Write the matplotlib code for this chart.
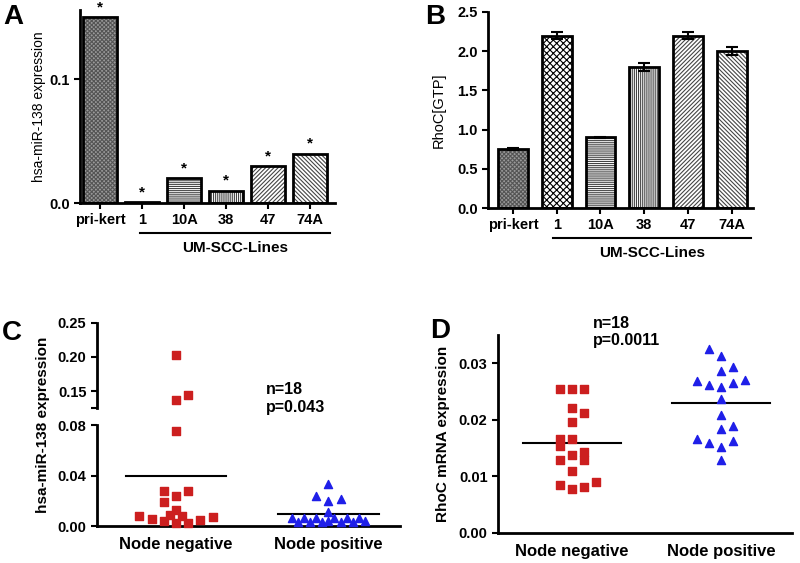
import numpy as np
import matplotlib
matplotlib.use('Agg')
import matplotlib.pyplot as plt
import matplotlib.transforms as mtransforms

plt.rcParams['font.family'] = ['Liberation Sans', 'DejaVu Sans']
plt.rcParams['font.weight'] = 'bold'
plt.rcParams['hatch.linewidth'] = 0.8

# ---- data ----
lines = ['pri-kert', '1', '10A', '38', '47', '74A']
mir138 = [0.150, 0.001, 0.020, 0.010, 0.030, 0.040]
rhoc_gtp = [0.75, 2.20, 0.90, 1.80, 2.20, 2.00]
rhoc_gtp_err = [0.01, 0.04, 0.01, 0.05, 0.05, 0.05]
hatches = ['xxxxxxxx', 'xxxxx', '--------', '||||||||', '////////', '\\' * 8]
hatch_fill = ['#9a9a9a', 'white', 'white', 'white', 'white', 'white']
hatch_col = ['#555555', 'black', '#444444', '#444444', '#444444', '#444444']

groups = ['Node negative', 'Node positive']
# panel C: hsa-miR-138 per tumour, column offset inside the swarm
c_neg = [0.203, 0.137, 0.144, 0.075, 0.028, 0.0276, 0.0234, 0.019, 0.0076,
         0.0055, 0.004, 0.0124, 0.0084, 0.0076, 0.0024, 0.0024, 0.005, 0.007]
c_neg_col = [0, 0, 1, 0, -1, 1, 0, -1, -3, -2, -1, 0, -0.5, 0.5, 0, 1, 2, 3]
c_pos = [0.0333, 0.0238, 0.020, 0.0214, 0.0113, 0.006, 0.003, 0.006, 0.003,
         0.006, 0.003, 0.004, 0.006, 0.003, 0.006, 0.003, 0.006, 0.004]
c_pos_col = [0, -1, 0, 1, 0, -3, -2.5, -2, -1.5, -1, -0.5, 0, 0.5, 1, 1.5, 2, 2.5, 3]
# panel D: RhoC mRNA per tumour
d_neg = [0.0255, 0.0255, 0.0255, 0.0221, 0.0212, 0.0197, 0.0167, 0.0167, 0.0153,
         0.0144, 0.0138, 0.0129, 0.0129, 0.0110, 0.0084, 0.0078, 0.0081, 0.0091]
d_neg_col = [-1, 0, 1, 0, 1, 0, -1, 0, -1, 1, 0, -1, 1, 0, -1, 0, 1, 2]
d_pos = [0.0325, 0.0312, 0.0293, 0.0287, 0.0268, 0.0262, 0.0258, 0.0265, 0.0270,
         0.0236, 0.0208, 0.0190, 0.0184, 0.0167, 0.0159, 0.0152, 0.0162, 0.0129]
d_pos_col = [-1, 0, 1, 0, -2, -1, 0, 1, 2, 0, 0, 1, 0, -2, -1, 0, 1, 0]

RED = '#cc1f1f'
BLUE = '#1f1fe8'
STEP = 0.08

fig = plt.figure(figsize=(8, 5.63), dpi=100)


def style(ax):
    for s in ['top', 'right']:
        ax.spines[s].set_visible(False)
    for s in ['left', 'bottom']:
        ax.spines[s].set_linewidth(2)
    ax.tick_params(direction='out', width=1.5, length=4, labelsize=10.5)


def hatched_bars(ax, x, vals, width, err=None):
    for i in range(len(x)):
        ax.bar(x[i], vals[i], width, color=hatch_fill[i], hatch=hatches[i],
               edgecolor=hatch_col[i], linewidth=0)
        ax.bar(x[i], vals[i], width, color='none', edgecolor='black', linewidth=2)
    if err is not None:
        ax.errorbar(x, vals, yerr=err, fmt='none', ecolor='black',
                    elinewidth=1.5, capsize=4, capthick=1.5)


def underline(ax, x0, x1, y_line, y_text):
    tr = mtransforms.blended_transform_factory(ax.transData, ax.transAxes)
    ax.plot([x0, x1], [y_line, y_line], color='black', lw=1.5,
            transform=tr, clip_on=False)
    ax.text((x0 + x1) / 2, y_text, 'UM-SCC-Lines', transform=tr,
            ha='center', va='center', fontsize=11, fontweight='bold')


x = np.arange(len(lines))

# ---- A ----
axA = fig.add_axes([0.10, 0.6394, 0.319, 0.3428])
style(axA)
hatched_bars(axA, x, mir138, 0.8)
for xi, v in zip(x, mir138):
    axA.annotate('*', (xi, v), xytext=(0, 2), textcoords='offset points',
                 ha='center', va='bottom', fontsize=11, fontweight='bold')
axA.set_xlim(-0.48, 5.6)
axA.set_ylim(0, 0.156)
axA.set_yticks([0.0, 0.1])
axA.set_yticklabels(['0.0', '0.1'])
axA.set_xticks(x)
axA.set_xticklabels(lines)
axA.set_ylabel('hsa-miR-138 expression', fontsize=10, fontweight='normal', labelpad=2)
underline(axA, 0.95, 5.48, -0.155, -0.235)

# ---- B ----
axB = fig.add_axes([0.61, 0.6305, 0.331, 0.3482])
style(axB)
hatched_bars(axB, x, rhoc_gtp, 0.68, rhoc_gtp_err)
axB.set_xlim(-0.57, 5.48)
axB.set_ylim(0, 2.5)
axB.set_yticks(np.arange(0, 2.6, 0.5))
axB.set_yticklabels(['%.1f' % v for v in np.arange(0, 2.6, 0.5)])
axB.set_xticks(x)
axB.set_xticklabels(lines)
axB.set_ylabel('RhoC[GTP]', fontsize=10.5, fontweight='normal', labelpad=8)
underline(axB, 0.91, 5.44, -0.153, -0.23)

# ---- C (broken y axis) ----
axC = fig.add_axes([0.121, 0.0657, 0.379, 0.1794])
axC2 = fig.add_axes([0.121, 0.2753, 0.379, 0.151])
style(axC)
style(axC2)
axC2.spines['bottom'].set_visible(False)
axC2.tick_params(axis='x', bottom=False, labelbottom=False)
for ax, lo, hi in [(axC, 0, 0.08), (axC2, 0.125, 0.25)]:
    ax.scatter(np.array(c_neg_col) * STEP, c_neg, marker='s', s=30, color=RED,
               clip_on=False, zorder=3)
    ax.scatter(1 + np.array(c_pos_col) * STEP, c_pos, marker='^', s=34, color=BLUE,
               clip_on=False, zorder=3)
    ax.set_ylim(lo, hi)
    ax.set_xlim(-0.52, 1.47)
for i in range(2):
    vals = [c_neg, c_pos][i]
    axC.plot([i - 0.33, i + 0.33], [np.mean(vals)] * 2, color='black', lw=1.5)
# hide the points belonging to the other segment
for coll in axC.collections:
    off = coll.get_offsets()
    coll.set_offsets(off[off[:, 1] <= 0.08])
for coll in axC2.collections:
    off = coll.get_offsets()
    coll.set_offsets(off[off[:, 1] >= 0.125])
axC.set_yticks([0, 0.04, 0.08])
axC.set_yticklabels(['0.00', '0.04', '0.08'])
axC2.set_yticks([0.125, 0.15, 0.20, 0.25])
axC2.set_yticklabels(['', '0.15', '0.20', '0.25'])
axC.set_xticks([0, 1])
axC.set_xticklabels(groups, fontsize=12)
axC.tick_params(axis='x', length=0, pad=8)
fig.text(0.054, 0.245, 'hsa-miR-138 expression', rotation=90, ha='center',
         va='center', fontsize=11, fontweight='bold')
axC2.text(0.59, 0.139, 'n=18\np=0.043', fontsize=11.5, fontweight='bold',
          ha='left', va='center', linespacing=1.2)

# ---- D ----
axD = fig.add_axes([0.6225, 0.0533, 0.3675, 0.3517])
style(axD)
axD.scatter(np.array(d_neg_col) * STEP, d_neg, marker='s', s=30, color=RED, zorder=3)
axD.scatter(1 + np.array(d_pos_col) * STEP, d_pos, marker='^', s=34, color=BLUE, zorder=3)
for i in range(2):
    vals = [d_neg, d_pos][i]
    axD.plot([i - 0.33, i + 0.33], [np.mean(vals)] * 2, color='black', lw=1.5)
axD.set_xlim(-0.497, 1.477)
axD.set_ylim(0, 0.035)
axD.set_yticks([0, 0.01, 0.02, 0.03])
axD.set_yticklabels(['0.00', '0.01', '0.02', '0.03'])
axD.set_xticks([0, 1])
axD.set_xticklabels(groups, fontsize=12)
axD.tick_params(axis='x', length=0, pad=8)
axD.set_ylabel('RhoC mRNA expression', fontsize=11, fontweight='bold', labelpad=6)
axD.text(0.14, 0.0355, 'n=18\np=0.0011', fontsize=11.5, fontweight='bold',
         ha='left', va='center', linespacing=1.2, clip_on=False)

# panel letters
for lab, px, py in [('A', 3, 4), ('B', 425, 4), ('C', 2, 320), ('D', 430, 318)]:
    fig.text(px / 800, 1 - py / 563, lab, fontsize=20, fontweight='bold',
             ha='left', va='top')

fig.savefig('out.png', dpi=100)
